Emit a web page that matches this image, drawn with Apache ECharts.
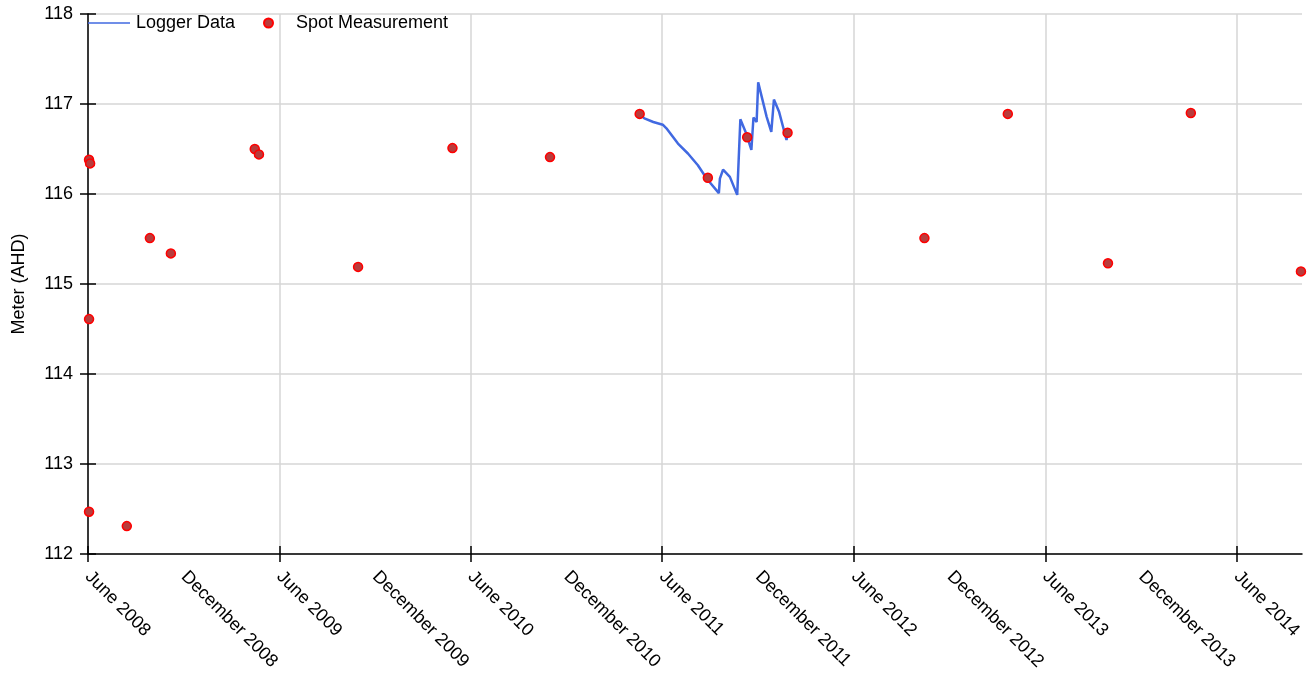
<!DOCTYPE html>
<html>
<head>
<meta charset="utf-8">
<script src="https://cdn.jsdelivr.net/npm/echarts@6/dist/echarts.min.js"></script>
<style>
html,body{margin:0;padding:0;background:#fff;}
#chart{width:1312px;height:684px;}
</style>
</head>
<body>
<div id="chart"></div>
<script>
// ---- Data ----
const loggerDates = ['2011-04-20','2011-04-28','2011-05-15','2011-06-02','2011-06-09','2011-07-01','2011-07-20','2011-08-08','2011-08-25','2011-09-17','2011-09-19','2011-09-25','2011-10-08','2011-10-22','2011-10-28','2011-11-07','2011-11-18','2011-11-22','2011-11-28','2011-12-01','2011-12-17','2011-12-26','2011-12-31','2012-01-10','2012-01-24','2012-01-27'];
const loggerValues = [116.88,116.84,116.80,116.77,116.73,116.56,116.45,116.32,116.17,116.01,116.17,116.27,116.19,115.99,116.83,116.69,116.49,116.85,116.80,117.24,116.86,116.69,117.05,116.91,116.60,116.69];

const spotDates = ['2008-06-03','2008-06-05','2008-06-03','2008-06-03','2008-08-14','2008-09-27','2008-11-06','2009-04-15','2009-04-23','2009-10-29','2010-04-27','2010-10-30','2011-04-19','2011-08-27','2011-11-10','2012-01-26','2012-10-13','2013-03-21','2013-09-28','2014-03-05','2014-10-01'];
const spotValues = [116.38,116.34,114.61,112.47,112.31,115.51,115.34,116.50,116.44,115.19,116.51,116.41,116.89,116.18,116.63,116.68,115.51,116.89,115.23,116.90,115.14];

const tickYears = [2008,2009,2010,2011,2012,2013,2014];
const monthNames = ['January','February','March','April','May','June','July','August','September','October','November','December'];
const xMin = '2008-06-01';
const xMax = '2014-10-03';
const yMin = 112, yMax = 118, yInterval = 1;

// ---- Build ----
function ts(s) { const p = s.split('-').map(Number); return new Date(p[0], p[1] - 1, p[2]).getTime(); }
const junes = tickYears.map(y => new Date(y, 5, 1).getTime());
const labelVals = [];
tickYears.forEach(y => {
  labelVals.push(new Date(y, 5, 1).getTime());
  const dec = new Date(y, 11, 1).getTime();
  if (dec < ts(xMax)) labelVals.push(dec);
});

const chart = echarts.init(document.getElementById('chart'), null, {renderer: 'canvas'});
const font = '"Liberation Sans", Arial, sans-serif';
const axisBlack = {color: '#000', width: 1.5};
chart.setOption({
  animation: false,
  backgroundColor: '#fff',
  textStyle: {fontFamily: font},
  grid: {left: 88, right: 10, top: 14, bottom: 130, containLabel: false},
  legend: [
    {
      data: [{name: 'Logger Data', icon: 'rect'}], left: 88, top: 14, itemWidth: 42, itemHeight: 1.5, padding: 0,
      textStyle: {fontSize: 18, color: '#000', fontFamily: font, padding: [6,0,0,1]}
    },
    {
      data: [{name: 'Spot Measurement', icon: 'circle'}], left: 263, top: 14, itemWidth: 9, itemHeight: 9, padding: 0,
      textStyle: {fontSize: 18, color: '#000', fontFamily: font, padding: [6,0,0,18]}
    }
  ],
  xAxis: [{
    type: 'value',
    min: ts(xMin),
    max: ts(xMax),
    axisLine: {show: true, onZero: false, lineStyle: axisBlack},
    axisTick: {show: true, length: 8, customValues: junes, lineStyle: axisBlack},
    splitLine: {show: true, lineStyle: {color: '#d6d6d6', width: 1.5}},
    axisLabel: {
      customValues: labelVals,
      rotate: -45,
      margin: 20,
      fontSize: 18,
      color: '#000',
      fontFamily: font,
      hideOverlap: false,
      showMinLabel: true,
      showMaxLabel: true,
      formatter: function (v) { const d = new Date(v); return monthNames[d.getMonth()] + ' ' + d.getFullYear(); }
    }
  }, {
    type: 'value', position: 'bottom',
    min: ts(xMin), max: ts(xMax),
    axisLine: {show: false, onZero: false},
    axisTick: {show: true, inside: true, length: 8, customValues: junes, lineStyle: axisBlack},
    splitLine: {show: false},
    axisLabel: {show: false}
  }],
  yAxis: [{
    type: 'value',
    min: yMin, max: yMax, interval: yInterval,
    name: 'Meter (AHD)',
    nameLocation: 'middle',
    nameGap: 60,
    nameTextStyle: {fontSize: 18, color: '#000', fontFamily: font},
    axisLine: {show: true, lineStyle: axisBlack},
    axisTick: {show: true, length: 8, lineStyle: axisBlack},
    splitLine: {show: true, lineStyle: {color: '#d6d6d6', width: 1.5}},
    axisLabel: {fontSize: 18, color: '#000', margin: 15, fontFamily: font}
  }, {
    type: 'value', position: 'left',
    min: yMin, max: yMax, interval: yInterval,
    axisLine: {show: false, onZero: false},
    axisTick: {show: true, inside: true, length: 8, lineStyle: axisBlack},
    splitLine: {show: false},
    axisLabel: {show: false}
  }],
  series: [
    {
      name: 'Logger Data',
      type: 'line',
      symbol: 'none',
      data: loggerDates.map((d, i) => [ts(d), loggerValues[i]]),
      lineStyle: {color: '#4169e1', width: 2.5},
      itemStyle: {color: '#4169e1'},
      z: 3
    },
    {
      name: 'Spot Measurement',
      type: 'scatter',
      symbol: 'circle',
      symbolSize: 9,
      data: spotDates.map((d, i) => [ts(d), spotValues[i]]),
      itemStyle: {color: '#b93c3c', borderColor: '#ff0000', borderWidth: 1.5, opacity: 1},
      z: 4
    }
  ]
});
</script>
</body>
</html>
